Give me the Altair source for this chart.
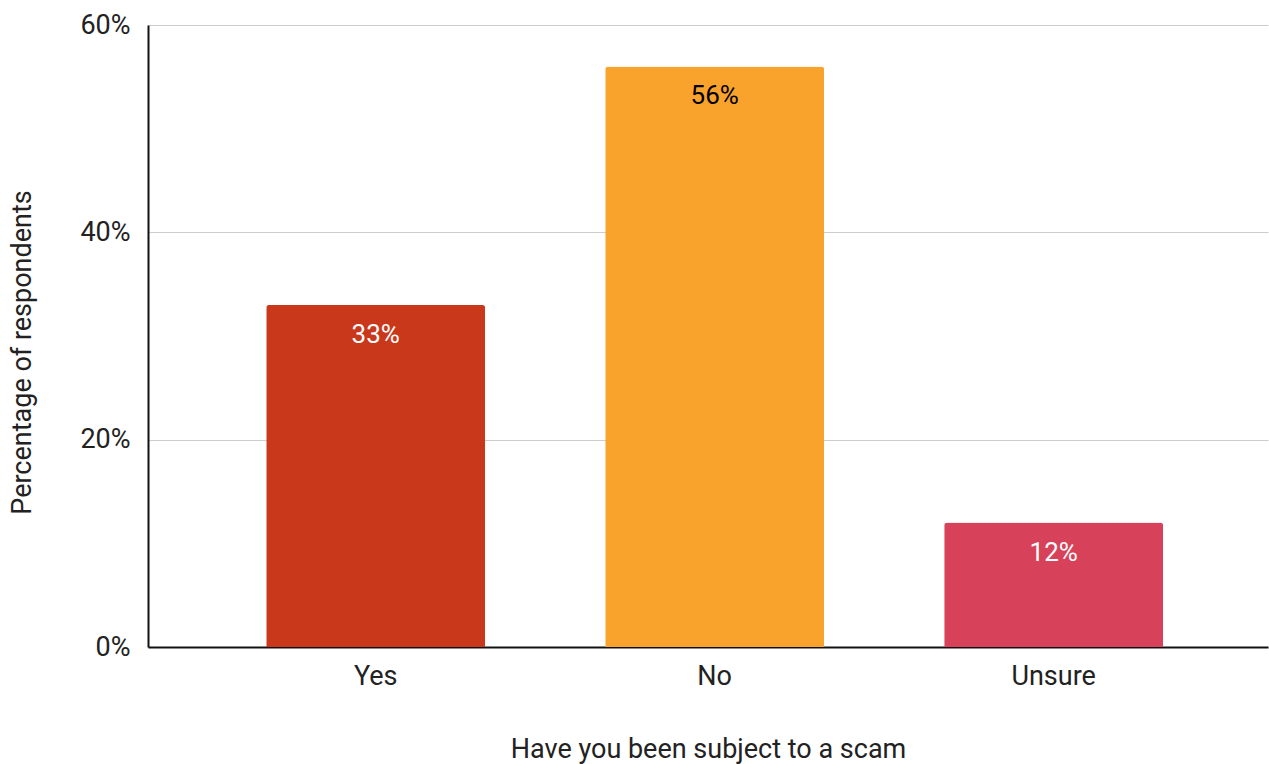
import altair as alt
import pandas as pd

# Survey answers and share of respondents (%)
answers = ["Yes", "No", "Unsure"]
shares = [33, 56, 12]
bar_colors = ["#C9381B", "#F9A32C", "#D8415A"]
label_colors = ["#FFFFFF", "#000000", "#FFFFFF"]
y_ticks = [0, 20, 40, 60]

df = pd.DataFrame({
    "answer": answers,
    "share": shares,
    "label": [f"{v}%" for v in shares],
    "label_color": label_colors,
})

FONT = "Roboto"
FS = 27

x_enc = alt.X(
    "answer:N",
    sort=answers,
    scale=alt.Scale(paddingInner=0.354, paddingOuter=0.329, align=0.53),
    axis=alt.Axis(
        title="Have you been subject to a scam",
        labelAngle=0,
        labelFontSize=FS,
        labelColor="#222222",
        labelPadding=16,
        ticks=False,
        domainColor="#111111",
        domainWidth=2,
        titleFontSize=FS,
        titleFontWeight="normal",
        titleColor="#222222",
        titleY=110,
        titleBaseline="alphabetic",
    ),
)

bars = alt.Chart(df).mark_bar(
    cornerRadiusTopLeft=3, cornerRadiusTopRight=3
).encode(
    x=x_enc,
    y=alt.Y(
        "share:Q",
        scale=alt.Scale(domain=[0, 60], nice=False),
        axis=alt.Axis(
            title="Percentage of respondents",
            values=y_ticks,
            labelExpr="datum.value + '%'",
            labelFontSize=FS,
            labelColor="#222222",
            labelPadding=18,
            ticks=False,
            domainColor="#111111",
            domainWidth=2,
            gridColor="#CCCCCC",
            gridWidth=1,
            titleFontSize=FS,
            titleFontWeight="normal",
            titleColor="#222222",
            titleX=-126,
            titleY=327,
            titleAlign="center",
            titleBaseline="middle",
        ),
    ),
    color=alt.Color("answer:N", scale=alt.Scale(domain=answers, range=bar_colors), legend=None),
)

labels = alt.Chart(df).mark_text(
    baseline="middle", dy=30, fontSize=FS - 1, font=FONT
).encode(
    x=alt.X("answer:N", sort=answers),
    y=alt.Y("share:Q"),
    text="label:N",
    color=alt.Color("label_color:N", scale=None),
)

chart = (
    alt.layer(bars, labels)
    .properties(
        width=1120,
        height=622,
        autosize=alt.AutoSizeParams(type="none"),
        padding={"left": 148, "top": 25, "right": 1, "bottom": 117},
    )
    .configure(font=FONT)
    .configure_view(stroke=None)
)

chart.save("out.html", embed_options={"renderer": "svg", "actions": False})
